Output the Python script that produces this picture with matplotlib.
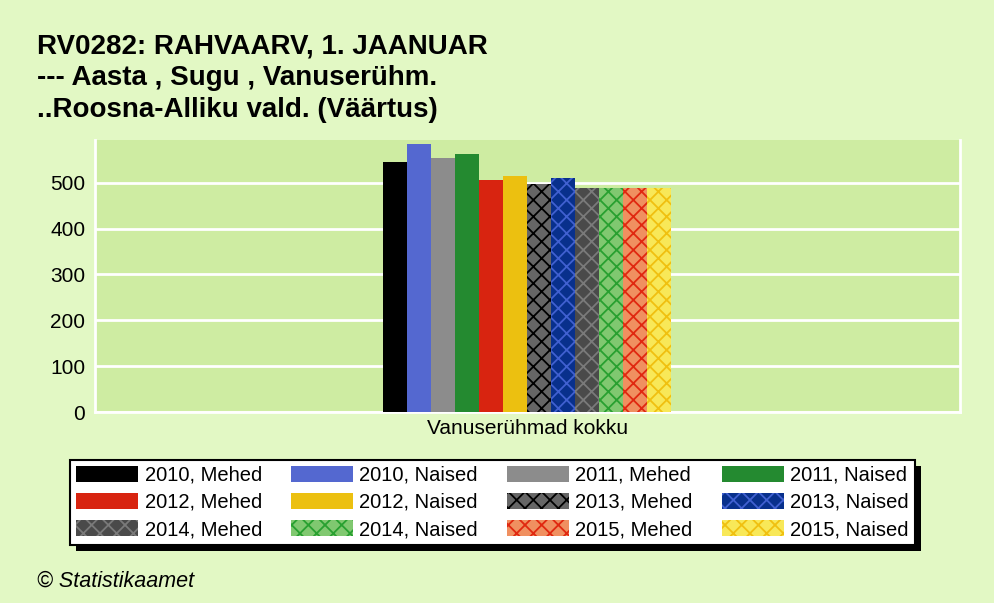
import matplotlib
matplotlib.use("Agg")
import matplotlib.pyplot as plt
from matplotlib.patches import Rectangle, Patch

# ---------------------------------------------------------------------------
# Data
# ---------------------------------------------------------------------------
CATEGORY = "Vanuserühmad kokku"
SERIES = [
    "2010, Mehed", "2010, Naised", "2011, Mehed", "2011, Naised",
    "2012, Mehed", "2012, Naised", "2013, Mehed", "2013, Naised",
    "2014, Mehed", "2014, Naised", "2015, Mehed", "2015, Naised",
]
VALUES = [545, 584, 554, 562, 506, 515, 497, 511, 488, 488, 488, 488]
Y_TICKS = [0, 100, 200, 300, 400, 500]

# fill colour, hatch colour (None = solid)
FILLS = ["#000000", "#5468d0", "#8c8c8c", "#248a30",
         "#d82410", "#ecc010", "#666666", "#08308c",
         "#4a4a4a", "#80c870", "#f09060", "#f8e858"]
HATCHES = [None, None, None, None, None, None,
           "#000000", "#4060d0", "#7a7a7a", "#28a030", "#e02810", "#f0c010"]

OUTER_BG = "#e2f8c4"
PLOT_BG = "#ceeca2"

plt.rcParams["font.family"] = ["Liberation Sans", "DejaVu Sans"]
plt.rcParams["hatch.linewidth"] = 1.3

W, H = 995, 603
fig = plt.figure(figsize=(W / 100, H / 100), dpi=100)
fig.patch.set_facecolor(OUTER_BG)


def fx(px):
    return px / W


def fy(py):
    return 1 - py / H


ax = fig.add_axes([fx(95), fy(412), fx(960) - fx(95), fy(140) - fy(412)])
ax.set_facecolor(PLOT_BG)

n = len(VALUES)
group_w = 288 / 865
bw = group_w / n
xs = [-group_w / 2 + bw * (i + 0.5) for i in range(n)]

for x, v, fc, hc in zip(xs, VALUES, FILLS, HATCHES):
    if hc is None:
        ax.bar(x, v, width=bw, color=fc, linewidth=0, zorder=3)
    else:
        ax.bar(x, v, width=bw, facecolor=fc, edgecolor=hc, hatch="xx",
               linewidth=0, zorder=3)

ax.set_xlim(-0.5, 0.5)
ax.set_ylim(0, 593)
ax.set_yticks(Y_TICKS)
ax.set_yticklabels([str(t) for t in Y_TICKS], fontsize=15)
ax.set_xticks([0])
ax.set_xticklabels([CATEGORY], fontsize=15)
ax.tick_params(axis="y", length=0, pad=7)
ax.tick_params(axis="x", length=0, pad=5)
ax.grid(axis="y", color="white", linewidth=2, zorder=1)
ax.spines["top"].set_visible(False)
for side in ["left", "right", "bottom"]:
    ax.spines[side].set_color("white")
    ax.spines[side].set_linewidth(2)

# Title
fig.text(fx(37), fy(33), "RV0282: RAHVAARV, 1. JAANUAR\n--- Aasta , Sugu , Vanuserühm.\n..Roosna-Alliku vald. (Väärtus)",
         fontsize=20, fontweight="bold", va="top", ha="left", linespacing=1.3)

# Legend (matplotlib fills column-wise, reference reads row-wise)
ncol, nrow = 4, 3
handles = []
for fc, hc in zip(FILLS, HATCHES):
    if hc is None:
        handles.append(Patch(facecolor=fc, linewidth=0))
    else:
        handles.append(Patch(facecolor=fc, edgecolor=hc, hatch="xx", linewidth=0))
order = [r * ncol + c for c in range(ncol) for r in range(nrow)]
leg_handles = [handles[i] for i in order]
leg_labels = [SERIES[i] for i in order]

leg_x0, leg_y0, leg_x1, leg_y1 = 70, 460, 915, 545
leg = fig.legend(leg_handles, leg_labels, ncol=ncol, loc="center",
                 bbox_to_anchor=(fx(leg_x0), fy(leg_y1), fx(leg_x1 - leg_x0), fy(leg_y0) - fy(leg_y1)),
                 mode="expand", fontsize=14.5, frameon=True, fancybox=False,
                 edgecolor="black", facecolor="white", framealpha=1,
                 handlelength=3.1, handleheight=0.8, handletextpad=0.3,
                 labelspacing=0.4, borderpad=0.3, borderaxespad=0)
leg.get_frame().set_linewidth(1.5)
leg.set_zorder(2)

# black drop shadow placed from the legend's real extent
fig.canvas.draw()
bb = leg.get_window_extent().transformed(fig.transFigure.inverted())
fig.patches.append(Rectangle((bb.x0 + fx(6), bb.y0 - 6 / H), bb.width, bb.height,
                             transform=fig.transFigure, facecolor="black",
                             edgecolor="none", zorder=1))

fig.text(fx(37), fy(581), "© Statistikaamet", fontsize=15.5, style="italic",
         va="center", ha="left")

fig.savefig("out.png", dpi=100, facecolor=OUTER_BG)
